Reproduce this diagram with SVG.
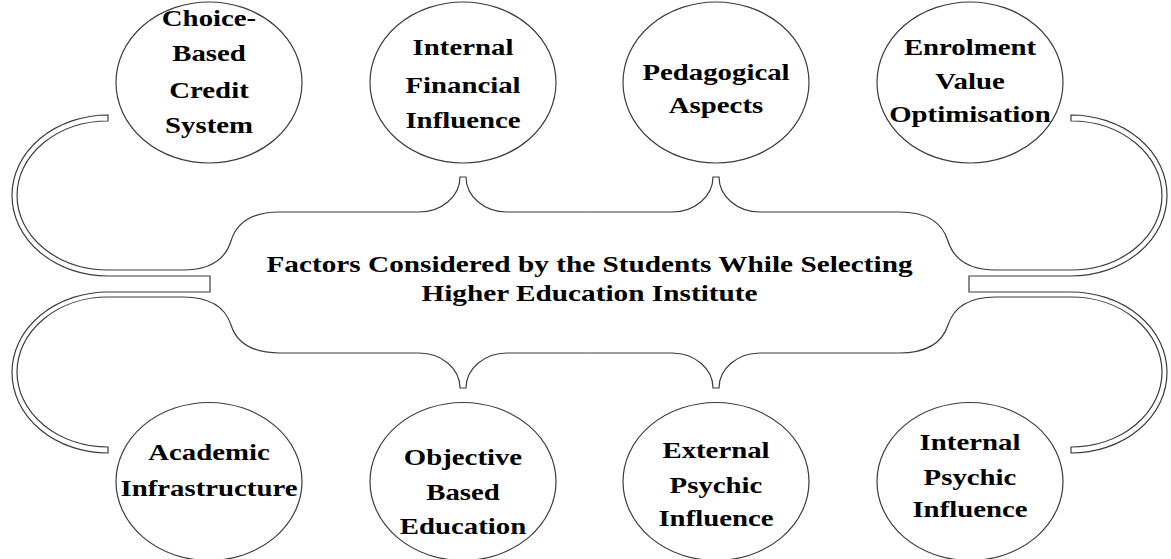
<svg xmlns="http://www.w3.org/2000/svg" xmlns:xlink="http://www.w3.org/1999/xlink" width="1171" height="559" viewBox="0 0 1171 559">
<style>
.line{fill:none;stroke:#3c3c3c;stroke-width:1.2;stroke-linejoin:miter}
.node{fill:none;stroke:#3c3c3c;stroke-width:1.2}
.lbl{font-family:"Liberation Serif","Times New Roman",serif;font-weight:bold;font-size:24px;fill:#000;text-anchor:middle}
</style>
<defs>
<path id="half" class="line" d="M 589.5,212 L 507,212 A 41 35 0 0 1 466,177 L 460,177 A 41 35 0 0 1 419,212 L 280,212 Q 240,212 231,241 Q 222,270 183,270 L 108,270 A 91 74.5 0 0 1 108,121 L 108,115 A 96 80.5 0 0 0 108,276 L 210,276 L 210,292 L 108,292 A 96 80.5 0 0 0 108,453 L 108,447 A 91 75 0 0 1 108,297 L 183,297 Q 222,297 231,325 Q 240,353 280,353 L 419,353 A 41 35 0 0 1 460,388 L 466,388 A 41 35 0 0 1 507,353 L 589.5,353"/>
</defs>
<rect width="1171" height="559" fill="#fff"/>
<g id="connectors">
<use xlink:href="#half" href="#half"/>
<use xlink:href="#half" href="#half" transform="translate(1179 0) scale(-1 1)"/>
</g>
<g id="title">
<g transform="translate(589.5 0) scale(1.22 1)"><text class="lbl"><tspan x="0" y="272">Factors Considered by the Students While Selecting</tspan><tspan x="0" y="301">Higher Education Institute</tspan></text></g>
</g>
<g id="n1">
<ellipse class="node" cx="209" cy="82.5" rx="93" ry="80.5"/>
<g transform="translate(209 0) scale(1.2 1)"><text class="lbl"><tspan x="0" y="26">Choice-</tspan><tspan x="0" y="61">Based</tspan><tspan x="0" y="98">Credit</tspan><tspan x="0" y="133">System</tspan></text></g>
</g>
<g id="n2">
<ellipse class="node" cx="463" cy="82.5" rx="93" ry="80.5"/>
<g transform="translate(463 0) scale(1.2 1)"><text class="lbl"><tspan x="0" y="55">Internal</tspan><tspan x="0" y="93">Financial</tspan><tspan x="0" y="128">Influence</tspan></text></g>
</g>
<g id="n3">
<ellipse class="node" cx="716" cy="82.5" rx="93" ry="80.5"/>
<g transform="translate(716 0) scale(1.2 1)"><text class="lbl"><tspan x="0" y="80">Pedagogical</tspan><tspan x="0" y="113">Aspects</tspan></text></g>
</g>
<g id="n4">
<ellipse class="node" cx="970" cy="82.5" rx="93" ry="80.5"/>
<g transform="translate(970 0) scale(1.2 1)"><text class="lbl"><tspan x="0" y="55">Enrolment</tspan><tspan x="0" y="89">Value</tspan><tspan x="0" y="122">Optimisation</tspan></text></g>
</g>
<g id="n5">
<ellipse class="node" cx="209" cy="481.5" rx="93" ry="79"/>
<g transform="translate(209 0) scale(1.2 1)"><text class="lbl"><tspan x="0" y="460">Academic</tspan><tspan x="0" y="496">Infrastructure</tspan></text></g>
</g>
<g id="n6">
<ellipse class="node" cx="463" cy="481.5" rx="93" ry="79"/>
<g transform="translate(463 0) scale(1.2 1)"><text class="lbl"><tspan x="0" y="465">Objective</tspan><tspan x="0" y="500">Based</tspan><tspan x="0" y="534">Education</tspan></text></g>
</g>
<g id="n7">
<ellipse class="node" cx="716" cy="481.5" rx="93" ry="79"/>
<g transform="translate(716 0) scale(1.2 1)"><text class="lbl"><tspan x="0" y="458">External</tspan><tspan x="0" y="493">Psychic</tspan><tspan x="0" y="526">Influence</tspan></text></g>
</g>
<g id="n8">
<ellipse class="node" cx="970" cy="481.5" rx="93" ry="79"/>
<g transform="translate(970 0) scale(1.2 1)"><text class="lbl"><tspan x="0" y="450">Internal</tspan><tspan x="0" y="485">Psychic</tspan><tspan x="0" y="517">Influence</tspan></text></g>
</g>
</svg>
